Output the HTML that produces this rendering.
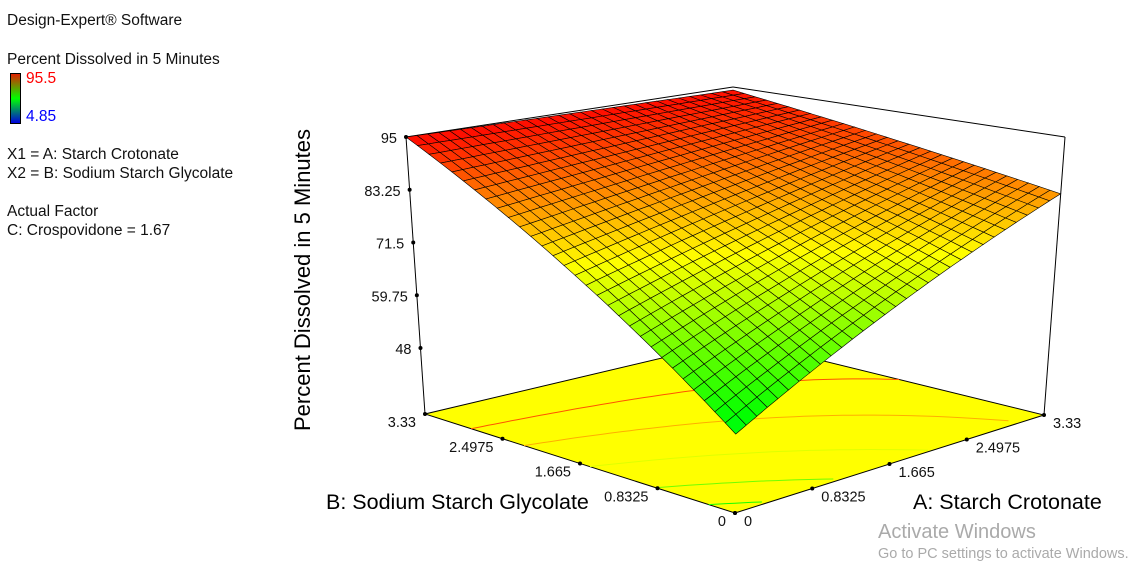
<!DOCTYPE html>
<html><head><meta charset="utf-8"><style>
body{margin:0;background:#fff;width:1140px;height:569px;overflow:hidden;font-family:"Liberation Sans",Arial,sans-serif}
.t{position:absolute;font-size:15.5px;color:#111;white-space:nowrap}
</style></head><body>
<div class="t" style="left:7px;top:12px">Design-Expert® Software</div>
<div class="t" style="left:7px;top:51px">Percent Dissolved in 5 Minutes</div>
<div style="position:absolute;left:10px;top:73px;width:9px;height:49px;border:1px solid #000;background:linear-gradient(#e02000,#00ff00,#0000e0)"></div>
<div class="t" style="left:26px;top:70px;color:#f00">95.5</div>
<div class="t" style="left:26px;top:108px;color:#00f">4.85</div>
<div class="t" style="left:7px;top:146px">X1 = A: Starch Crotonate</div>
<div class="t" style="left:7px;top:165px">X2 = B: Sodium Starch Glycolate</div>
<div class="t" style="left:7px;top:203px">Actual Factor</div>
<div class="t" style="left:7px;top:222px">C: Crospovidone = 1.67</div>
<svg id="chart" width="1140" height="569" style="position:absolute;left:0;top:0" font-family="Liberation Sans, Arial, sans-serif"></svg>
<div style="position:absolute;left:303px;top:280px;transform:translate(-50%,-50%) rotate(-90deg);font-size:22px;white-space:nowrap">Percent Dissolved in 5 Minutes</div>
<div style="position:absolute;left:326px;top:490px;font-size:21.5px;white-space:nowrap">B: Sodium Starch Glycolate</div>
<div style="position:absolute;left:913px;top:490px;font-size:21.5px;white-space:nowrap">A: Starch Crotonate</div>
<div style="position:absolute;left:878px;top:521px;font-size:20px;color:#aaa;white-space:nowrap">Activate Windows</div>
<div style="position:absolute;left:878px;top:546px;font-size:14.5px;color:#aaa;white-space:nowrap">Go to PC settings to activate Windows.</div>
<script>
const aTicks=[0,0.8325,1.665,2.4975,3.33];
const bTicks=[0,0.8325,1.665,2.4975,3.33];
const zTicks=[48,59.75,71.5,83.25,95];
const coefNames=["b0","A","B","AB"];
const coefValues=[48,10.33,14.11,-3.17];
const contourLevels=[52,60,70,80,88];
const gridN=30, aMax=3.33, bMax=3.33, zMin=33.3, zMax=95, cMin=4.85, cMax=95.5;
const F=[[735,513],[1044,415],[425,414],[738,340]];
const T=[[738,182],[1065,137],[406,137],[733,87]];
function bil(P,u,v){return [P[0][0]*(1-u)*(1-v)+P[1][0]*u*(1-v)+P[2][0]*(1-u)*v+P[3][0]*u*v,
 P[0][1]*(1-u)*(1-v)+P[1][1]*u*(1-v)+P[2][1]*(1-u)*v+P[3][1]*u*v];}
function proj(a,b,z){const u=a/aMax,v=b/bMax,f=bil(F,u,v),t=bil(T,u,v),w=(z-zMin)/(zMax-zMin);return [f[0]+(t[0]-f[0])*w,f[1]+(t[1]-f[1])*w];}
function model(a,b){return coefValues[0]+coefValues[1]*a+coefValues[2]*b+coefValues[3]*a*b;}
function col(z){let t=Math.max(0,Math.min(1,(z-cMin)/(cMax-cMin)));const s=[[0,0,255],[0,255,255],[0,255,0],[255,255,0],[255,0,0]];
 const p=t*4,i=Math.min(3,Math.floor(p)),f=p-i;const c=s[i].map((x,k)=>Math.round(x+(s[i+1][k]-x)*f));return `rgb(${c})`;}
const svg=document.getElementById('chart');const NS='http://www.w3.org/2000/svg';
function el(tag,attrs,parent){const e=document.createElementNS(NS,tag);for(const k in attrs)e.setAttribute(k,attrs[k]);(parent||svg).appendChild(e);return e;}
const pt=p=>p[0].toFixed(1)+','+p[1].toFixed(1);
const floor=el('polygon',{points:[proj(0,0,zMin),proj(aMax,0,zMin),proj(aMax,bMax,zMin),proj(0,bMax,zMin)].map(pt).join(' '),fill:'#ffff00',stroke:'#000','stroke-width':1});


contourLevels.forEach(L=>{const pts=[];for(let i=0;i<=60;i++){const a=aMax*i/60;const b=(L-coefValues[0]-coefValues[1]*a)/(coefValues[2]+coefValues[3]*a);if(b>=0&&b<=bMax)pts.push(proj(a,b,zMin));}
 if(pts.length>1){const c=el('polyline',{points:pts.map(pt).join(' '),fill:'none',stroke:col(L),'stroke-width':1});
 
 }});
[[[0,bMax,zMin],[0,bMax,zMax]],[[aMax,0,zMin],[aMax,0,zMax]],[[0,bMax,zMax],[aMax,bMax,zMax]],[[aMax,bMax,zMax],[aMax,0,zMax]]].forEach(e=>{
 const l=el('line',{x1:proj(...e[0])[0],y1:proj(...e[0])[1],x2:proj(...e[1])[0],y2:proj(...e[1])[1],stroke:'#000','stroke-width':1});
 
 });
const g=el('g',{});
const cells=[];for(let i=0;i<gridN;i++)for(let j=0;j<gridN;j++)cells.push([i,j]);
cells.sort((p,q)=>(q[0]+q[1])-(p[0]+p[1]));
cells.forEach(([i,j])=>{const a0=aMax*i/gridN,a1=aMax*(i+1)/gridN,b0=bMax*j/gridN,b1=bMax*(j+1)/gridN;
 const zc=model((a0+a1)/2,(b0+b1)/2);
 const q=el('polygon',{points:[proj(a0,b0,model(a0,b0)),proj(a1,b0,model(a1,b0)),proj(a1,b1,model(a1,b1)),proj(a0,b1,model(a0,b1))].map(pt).join(' '),fill:col(zc),stroke:'#000','stroke-width':0.6},g);
 
 });
function tick(p,label,dx,dy,anchor,name){const d=el('circle',{cx:p[0],cy:p[1],r:2,fill:'#000'});
 
 
 const t=el('text',{x:p[0]+dx,y:p[1]+dy,'font-size':14.5,'text-anchor':anchor,fill:'#111'});t.textContent=label;
 
 }
zTicks.forEach(z=>tick(proj(0,bMax,z),String(z),-9,6,'end','z-axis'));
aTicks.forEach(a=>tick(proj(a,0,zMin),String(a),9,13,'start','a-axis'));
bTicks.forEach(b=>tick(proj(0,b,zMin),String(b),-9,13,'end','b-axis'));
</script>
</body></html>
